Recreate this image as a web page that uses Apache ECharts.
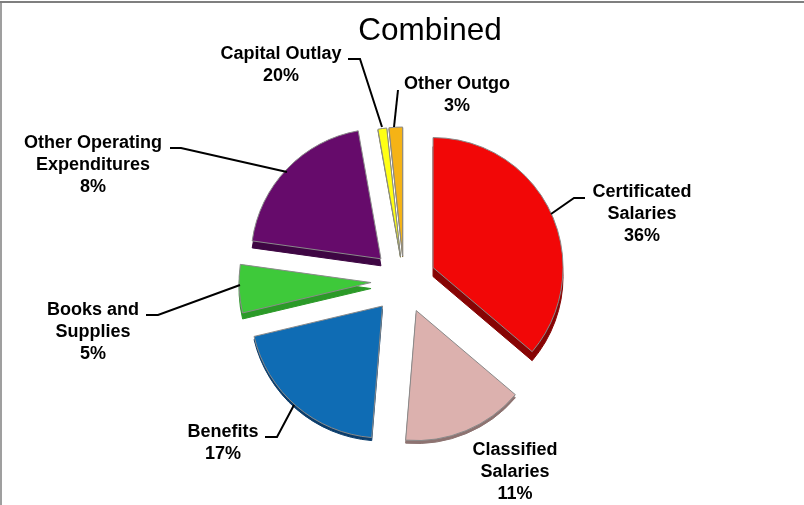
<!DOCTYPE html>
<html><head><meta charset="utf-8">
<style>html,body{margin:0;padding:0;background:#fff}#c{width:804px;height:505px}</style>
<script src="https://cdn.jsdelivr.net/npm/echarts@6/dist/echarts.min.js"></script>
</head><body><div id="c"></div>
<script>
const names = ['Certificated\nSalaries','Classified\nSalaries','Benefits','Books and\nSupplies','Other Operating\nExpenditures','Capital Outlay','Other Outgo'];
const labelPercents = ['36%','11%','17%','5%','8%','20%','3%'];
const sliceValues = [36.2,15.1,20,5.9,20,1.1,1.7];
const topColors = ['#f20707','#dcb1ae','#0f6cb4','#3ec93a','#660b6b','#ffff14','#f5b316'];
const sideColors = ['#870404','#8d7371','#0a3d6c','#2b9a28','#3e0643','#77773a','#8a7440'];
const explodeBy = [32,32,33,33,32,25,25];
const sideDepth = [9,3,3,6,7,1,1];
const sliceRadius = [130,130,132,132,130,129,129];
const labelAnchors = [[642,214.5],[515,472],[223,443],[93,332],[93,165],[281,65],[457,95]];
const leaderLines = [
  [[585,198],[574,198],[551,214]],
  null,
  [[265,437],[277,437],[294,405]],
  [[146,315],[158,315],[240,285]],
  [[170,148],[181,148],[287,172]],
  [[348,59],[360,59],[382,127]],
  [[398,90],[394,127]]
];
const cx = 404, cy = 281;

function pie(idx, colors, dy, border){
  const style = i => i===idx ? {color:colors[i], borderColor:border||colors[i], borderWidth:1}
                             : {color:'rgba(0,0,0,0)', borderWidth:0};
  return {
    type:'pie', center:[cx,cy+dy], radius:[0,sliceRadius[idx]], startAngle:90, clockwise:true,
    selectedMode:'multiple', selectedOffset:explodeBy[idx], silent:true, animation:false,
    emphasis:{disabled:true}, label:{show:false}, labelLine:{show:false},
    data:sliceValues.map((v,i)=>({value:v, name:names[i], selected:i===idx, itemStyle:style(i), select:{itemStyle:style(i)}}))
  };
}
const series = [];
sliceValues.forEach((_,i)=>series.push(pie(i,sideColors,sideDepth[i],null)));
sliceValues.forEach((_,i)=>series.push(pie(i,topColors,0,'#8a8a8a')));

const graphic = [
  {type:'line',shape:{x1:0,y1:2,x2:804,y2:2},style:{stroke:'#7f7f7f',lineWidth:2}},
  {type:'line',shape:{x1:1,y1:2,x2:1,y2:505},style:{stroke:'#7f7f7f',lineWidth:1.5}}
];
names.forEach((n,i)=>{
  if(leaderLines[i]) graphic.push({type:'polyline',z:20,shape:{points:leaderLines[i]},style:{stroke:'#000',lineWidth:2,fill:null}});
  graphic.push({type:'text',z:20,x:labelAnchors[i][0],y:labelAnchors[i][1],style:{
    text:n+'\n'+labelPercents[i],fill:'#000',align:'center',verticalAlign:'middle',
    font:'bold 18px "Liberation Sans"',lineHeight:22}});
});

const chart = echarts.init(document.getElementById('c'),null,{renderer:'canvas'});
chart.setOption({
  backgroundColor:'#fff', animation:false,
  title:{text:'Combined', left:430, top:10, textAlign:'center',
    textStyle:{fontFamily:'Liberation Sans', fontWeight:'normal', fontSize:31.5, color:'#000'}},
  graphic:graphic,
  series:series
});
chart.setOption({title:{left:425}});
</script></body></html>
